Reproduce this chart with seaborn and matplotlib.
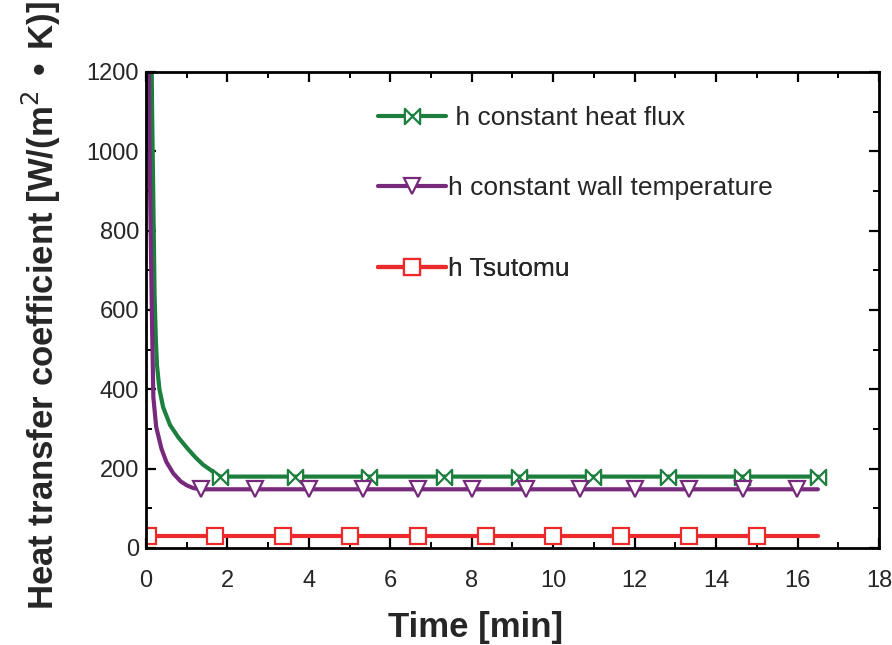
import matplotlib
matplotlib.use("Agg")
import matplotlib.pyplot as plt
from matplotlib.path import Path
from matplotlib.ticker import MultipleLocator
import seaborn as sns
import pandas as pd

# Heat transfer coefficient versus time for three models
t_flux = [0.13, 0.15, 0.17, 0.19, 0.21, 0.24, 0.27, 0.33, 0.42, 0.59, 0.80, 1.00, 1.20, 1.40,
          1.65, 1.82, 3.66, 5.48, 7.32, 9.16, 10.98, 12.82, 14.64, 16.50]
h_flux = [1300, 1100, 950, 800, 640, 530, 460, 400, 355, 310, 278, 253, 230, 210,
          192, 180, 180, 180, 180, 180, 180, 180, 180, 180]

t_wall = [0.06, 0.08, 0.10, 0.12, 0.15, 0.18, 0.25, 0.38, 0.50, 0.67, 0.85, 1.00, 1.16,
          1.35, 2.68, 4.00, 5.33, 6.68, 8.00, 9.33, 10.66, 12.00, 13.33, 14.66, 15.99, 16.50]
h_wall = [1300, 1050, 900, 750, 550, 380, 305, 250, 217, 188, 168, 158, 151,
          148, 148, 148, 148, 148, 148, 148, 148, 148, 148, 148, 148, 148]

t_tsu = [0.0, 0.05, 1.69, 3.36, 5.02, 6.68, 8.34, 10.0, 11.67, 13.34, 15.0, 16.5]
h_tsu = [30, 30, 30, 30, 30, 30, 30, 30, 30, 30, 30, 30]

labels = [" h constant heat flux", "h constant wall temperature", "h Tsutomu"]
colors = ["#1c7f3e", "#772a7c", "#ec2a2c"]

# indices that carry a marker
mk_flux = list(range(15, 24))
mk_wall = list(range(13, 25))
mk_tsu = list(range(1, 11))

sns.set_theme(style="ticks")
plt.rcParams["font.family"] = ["Liberation Sans", "DejaVu Sans"]

# bow-tie marker: two triangles meeting at the centre
bowtie = Path([(-1, -1), (1, 1), (1, -1), (-1, 1), (-1, -1)],
              [Path.MOVETO, Path.LINETO, Path.LINETO, Path.LINETO, Path.CLOSEPOLY])

fig = plt.figure(figsize=(8.92, 6.45), dpi=100)
ax = fig.add_axes([0.1637, 0.1504, 0.8217, 0.738])

series = [
    (t_flux, h_flux, mk_flux, bowtie, 11),
    (t_wall, h_wall, mk_wall, "v", 11.5),
    (t_tsu, h_tsu, mk_tsu, "s", 11),
]
handles = []
for (t, h, mk, marker, ms), lab, col in zip(series, labels, colors):
    df = pd.DataFrame({"t": t, "h": h})
    sns.lineplot(data=df, x="t", y="h", ax=ax, color=col, lw=3, legend=False,
                 marker=marker, markevery=mk, markersize=ms,
                 markerfacecolor="white", markeredgecolor=col, markeredgewidth=1.6,
                 sort=False, estimator=None)
    handles.append(ax.lines[-1])

ax.set_xlim(0, 18)
ax.set_ylim(0, 1200)
ax.xaxis.set_major_locator(MultipleLocator(2))
ax.xaxis.set_minor_locator(MultipleLocator(1))
ax.yaxis.set_major_locator(MultipleLocator(200))
ax.yaxis.set_minor_locator(MultipleLocator(100))

ax.tick_params(which="both", direction="in", top=True, right=True, color="black")
ax.tick_params(which="major", length=7, width=1.6, labelsize=17)
ax.tick_params(which="minor", length=4.5, width=1.4)
ax.tick_params(axis="x", which="major", pad=16)
ax.tick_params(axis="y", which="major", pad=5)
for s in ax.spines.values():
    s.set_linewidth(2)
    s.set_color("black")

ax.set_xlabel("Time [min]", fontsize=25, fontweight="bold")
ax.xaxis.set_label_coords(0.449, -0.133)
ax.set_ylabel("Heat transfer coefficient [W/(m$^{2}$ \u2022 K)]", fontsize=25,
              fontweight="bold")
ax.yaxis.set_label_coords(-0.113, 0.51)

# one legend entry per row, each placed on its own line
rows_y = [0.903, 0.756, 0.586]
for hnd, lab, y in zip(handles, labels, rows_y):
    leg = ax.legend([hnd], [lab], loc="center left", bbox_to_anchor=(0.317, y),
                    frameon=False, fontsize=19, handlelength=2.55,
                    handletextpad=0.08, borderpad=0, borderaxespad=0)
    for line in leg.get_lines():
        line.set_markevery([1])
    ax.add_artist(leg)

fig.savefig("out.png", dpi=100)
